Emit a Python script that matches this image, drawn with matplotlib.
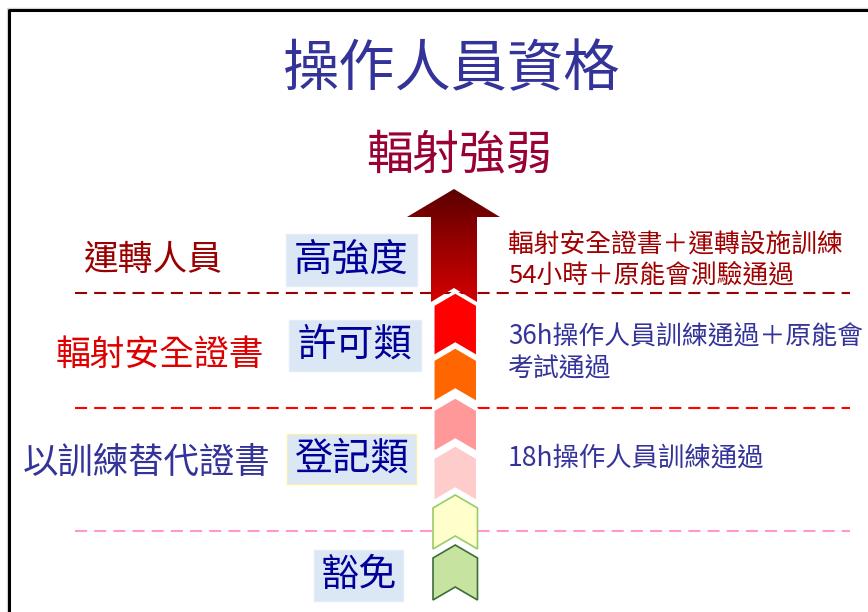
import matplotlib
matplotlib.use("Agg")
import matplotlib.pyplot as plt
import numpy as np
from matplotlib.patches import Polygon, Rectangle
from matplotlib.colors import LinearSegmentedColormap

plt.rcParams['font.family'] = ['Noto Sans CJK TC', 'DejaVu Sans']

# ---- content ----
title = "操作人員資格"
axis_label = "輻射強弱"
levels = ["高強度", "許可類", "登記類", "豁免"]
groups = ["運轉人員", "輻射安全證書", "以訓練替代證書"]
requirements = [
    "輻射安全證書＋運轉設施訓練\n54小時＋原能會測驗通過",
    "36h操作人員訓練通過＋原能會\n考試通過",
    "18h操作人員訓練通過",
]
chevron_colors = ["#ff0000", "#ff6600", "#ff9999", "#ffcccc", "#ffffcc", "#c6e3a0"]
chevron_edges = ["white", "white", "white", "white", "#99cc66", "#3a6e3a"]
divider_colors = ["#990000", "#ff0000", "#ff99cc"]

W, H = 868, 612
fig = plt.figure(figsize=(W / 100, H / 100), dpi=100)
ax = fig.add_axes([0, 0, 1, 1])
ax.set_xlim(0, W)
ax.set_ylim(H, 0)
ax.axis("off")

# frame
ax.plot([6.5, 6.5, W + 5], [H + 5, 7.5, 7.5], color="#d8d8d8", lw=1, zorder=1)
ax.plot([9, 9, W + 5], [H + 5, 10, 10], color="black", lw=2.2, zorder=1)

# titles
ax.text(452, 70, title, color="#333399", fontsize=40.5, ha="center", va="center")
ax.text(459, 155, axis_label, color="#990033", fontsize=33.5, ha="center", va="center")

# dashed dividers
div_y = [293, 408, 531]
for y, c in zip(div_y, divider_colors):
    ax.plot([75, 850], [y, y], color=c, lw=1.5, linestyle=(0, (5.8, 3.4)), zorder=2)

# arrow with gradient
arrow_pts = [(454, 189), (500, 217), (477, 217), (477, 302), (454, 288),
             (431, 302), (431, 217), (407, 217)]
arrow = Polygon(arrow_pts, closed=True, facecolor="none", edgecolor="none", zorder=3)
ax.add_patch(arrow)
cmap = LinearSegmentedColormap.from_list("g", ["#5a0000", "#9a0000", "#d40000"])
grad = np.linspace(0, 1, 256).reshape(-1, 1)
im = ax.imshow(grad, cmap=cmap, extent=[407, 500, 302, 189], aspect="auto", zorder=3,
               interpolation="bilinear")
im.set_clip_path(arrow)
ax.set_xlim(0, W)
ax.set_ylim(H, 0)

# chevrons
chev = [(305, 357), (360, 403), (410, 453), (458, 502), (508, 549), (558, 600)]
x0, x1 = 433, 477.5
xc = (x0 + x1) / 2
d = 13
for (yt, yb), fc, ec in zip(chev, chevron_colors, chevron_edges):
    pts = [(x0, yt), (xc, yt - d), (x1, yt), (x1, yb), (xc, yb - d), (x0, yb)]
    lw = 2.2 if ec == "white" else 1.2
    ax.add_patch(Polygon(pts, closed=True, facecolor=fc, edgecolor=ec, lw=lw, zorder=4))

# level boxes
boxes = [(286, 234, 131, 52), (289, 320, 132, 51), (287, 434, 129, 50), (314, 550, 89, 51)]
box_edges = ["#e4ecf7", "#e4ecf7", "#f5f0b0", "#e4ecf7"]
for (bx, by, bw, bh), lab, be in zip(boxes, levels, box_edges):
    ax.add_patch(Rectangle((bx, by), bw, bh, facecolor="#dbe7f5", edgecolor=be, lw=1, zorder=3))
    ax.text(bx + bw / 2, by + bh / 2, lab, color="#000099", fontsize=27.5,
            ha="center", va="center", zorder=5)

# group labels on the left
gpos = [(153, 260), (160, 355), (147, 463)]
gcol = ["#990000", "#dd0000", "#333399"]
gsize = [25, 25, 25.5]
for (gx, gy), g, c, s in zip(gpos, groups, gcol, gsize):
    ax.text(gx, gy, g, color=c, fontsize=s, ha="center", va="center")

# requirement text on the right
rpos = [260, 353, 458]
rcol = ["#a00000", "#333399", "#333399"]
rsize = [18.5, 18.6, 19]
for y, r, c, s in zip(rpos, requirements, rcol, rsize):
    ax.text(508, y, r, color=c, fontsize=s, ha="left", va="center", linespacing=1.2)

fig.savefig("out.png", dpi=100)
